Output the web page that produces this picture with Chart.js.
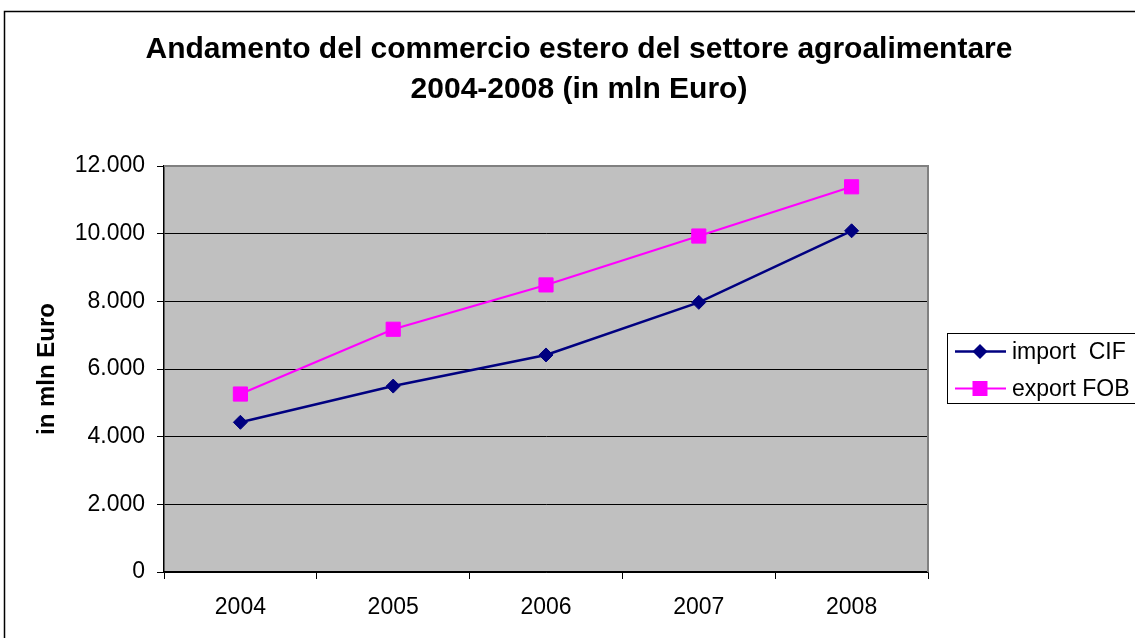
<!DOCTYPE html>
<html>
<head>
<meta charset="utf-8">
<script src="https://cdn.jsdelivr.net/npm/chart.js@4/dist/chart.umd.min.js"></script>
<style>
  html, body { margin: 0; padding: 0; background: #fff; }
  #wrap { width: 1135px; height: 638px; }
</style>
</head>
<body>
<div id="wrap"><canvas id="chart" width="1135" height="638"></canvas></div>
<script>
// dati
const anni = ['2004', '2005', '2006', '2007', '2008'];
const importCIF = [4425, 5495, 6415, 7970, 10085];
const exportFOB = [5260, 7175, 8485, 9930, 11385];
const titolo = ['Andamento del commercio estero del settore agroalimentare', '2004-2008 (in mln Euro)'];
const titoloAsse = 'in mln Euro';
const etichetteSerie = ['import  CIF', 'export FOB'];

const FONT = '"Liberation Sans", Arial, sans-serif';

// formato con punto per le migliaia
function formatta(v) {
    return String(v).replace(/\B(?=(\d{3})+(?!\d))/g, '.');
}

// sfondo grigio, cornice esterna e titolo
const sfondoPlugin = {
    id: 'sfondo',
    beforeDraw(chart) {
        const ctx = chart.ctx;
        const a = chart.chartArea;
        ctx.save();
        ctx.fillStyle = '#C0C0C0';
        ctx.fillRect(a.left, a.top, a.right - a.left, a.bottom - a.top);
        ctx.strokeStyle = '#000';
        ctx.lineWidth = 1.5;
        ctx.beginPath();
        ctx.moveTo(4.5, chart.height);
        ctx.lineTo(4.5, 11.5);
        ctx.lineTo(chart.width, 11.5);
        ctx.stroke();
        ctx.fillStyle = '#000';
        ctx.font = 'bold 30px ' + FONT;
        ctx.textAlign = 'center';
        ctx.textBaseline = 'middle';
        ctx.fillText(titolo[0], 579, 50);
        ctx.fillText(titolo[1], 579, 90);
        ctx.restore();
    },
    beforeDatasetsDraw(chart) {
        // bordo grigio sopra e a destra dell'area del grafico
        const ctx = chart.ctx;
        const a = chart.chartArea;
        ctx.save();
        ctx.strokeStyle = '#808080';
        ctx.lineWidth = 2;
        ctx.beginPath();
        ctx.moveTo(a.left, a.top);
        ctx.lineTo(a.right, a.top);
        ctx.lineTo(a.right, a.bottom);
        ctx.stroke();
        ctx.restore();
    }
};

// legenda con riquadro a destra
const legendaPlugin = {
    id: 'legendaBox',
    afterDraw(chart) {
        const ctx = chart.ctx;
        ctx.save();
        ctx.strokeStyle = '#000';
        ctx.lineWidth = 1;
        ctx.strokeRect(947.5, 333.5, 200, 70);
        const righe = [351.5, 388.5];
        chart.data.datasets.forEach(function(ds, i) {
            const y = righe[i];
            ctx.strokeStyle = ds.borderColor;
            ctx.lineWidth = ds.borderWidth;
            ctx.beginPath();
            ctx.moveTo(955, y);
            ctx.lineTo(1006, y);
            ctx.stroke();
            ctx.fillStyle = ds.borderColor;
            ctx.beginPath();
            if (ds.pointStyle === 'rectRot') {
                const r = 7.5;
                ctx.moveTo(980 - r, y);
                ctx.lineTo(980, y - r);
                ctx.lineTo(980 + r, y);
                ctx.lineTo(980, y + r);
                ctx.closePath();
            } else {
                ctx.rect(980 - 7.5, y - 7.5, 15, 15);
            }
            ctx.fill();
            ctx.fillStyle = '#000';
            ctx.font = '23px ' + FONT;
            ctx.textAlign = 'left';
            ctx.textBaseline = 'middle';
            ctx.fillText(ds.label, 1012, y + 1);
        });
        ctx.restore();
    }
};

const ctx = document.getElementById('chart').getContext('2d');
const chart = new Chart(ctx, {
    type: 'line',
    data: {
        labels: anni,
        datasets: [{
            label: etichetteSerie[0],
            data: importCIF,
            borderColor: '#000080',
            backgroundColor: '#000080',
            borderWidth: 2.5,
            pointStyle: 'rectRot',
            pointRadius: 7,
            pointBorderWidth: 1,
            tension: 0
        }, {
            label: etichetteSerie[1],
            data: exportFOB,
            borderColor: '#FF00FF',
            backgroundColor: '#FF00FF',
            borderWidth: 2,
            pointStyle: 'rect',
            pointRadius: 10,
            pointBorderWidth: 1,
            tension: 0
        }]
    },
    options: {
        responsive: false,
        animation: false,
        layout: { padding: { left: 0, top: 166, right: 207, bottom: 0 } },
        plugins: {
            legend: { display: false },
            title: { display: false },
            tooltip: { enabled: false }
        },
        scales: {
            x: {
                type: 'category',
                offset: true,
                grid: {
                    offset: true,
                    drawOnChartArea: false,
                    tickLength: 7,
                    color: '#000'
                },
                border: { color: '#000', width: 1.5 },
                ticks: {
                    color: '#000',
                    padding: 15,
                    font: { family: FONT, size: 23 },
                    maxRotation: 0
                },
                afterFit(scale) { scale.height = 66; }
            },
            y: {
                min: 0,
                max: 12000,
                ticks: {
                    stepSize: 2000,
                    color: '#000',
                    padding: 12,
                    font: { family: FONT, size: 23 },
                    callback: function(v) { return formatta(v); }
                },
                grid: {
                    tickLength: 7,
                    color: function(c) { return c.tick && c.tick.value === 12000 ? '#808080' : '#000'; },
                    tickColor: '#000',
                    lineWidth: 1
                },
                border: { color: '#000', width: 1.5 },
                title: {
                    display: true,
                    text: titoloAsse,
                    color: '#000',
                    font: { family: FONT, size: 24, weight: 'bold' },
                    padding: { top: 33, bottom: 0 }
                },
                afterFit(scale) { scale.width = 164; }
            }
        }
    },
    plugins: [sfondoPlugin, legendaPlugin]
});
</script>
</body>
</html>
